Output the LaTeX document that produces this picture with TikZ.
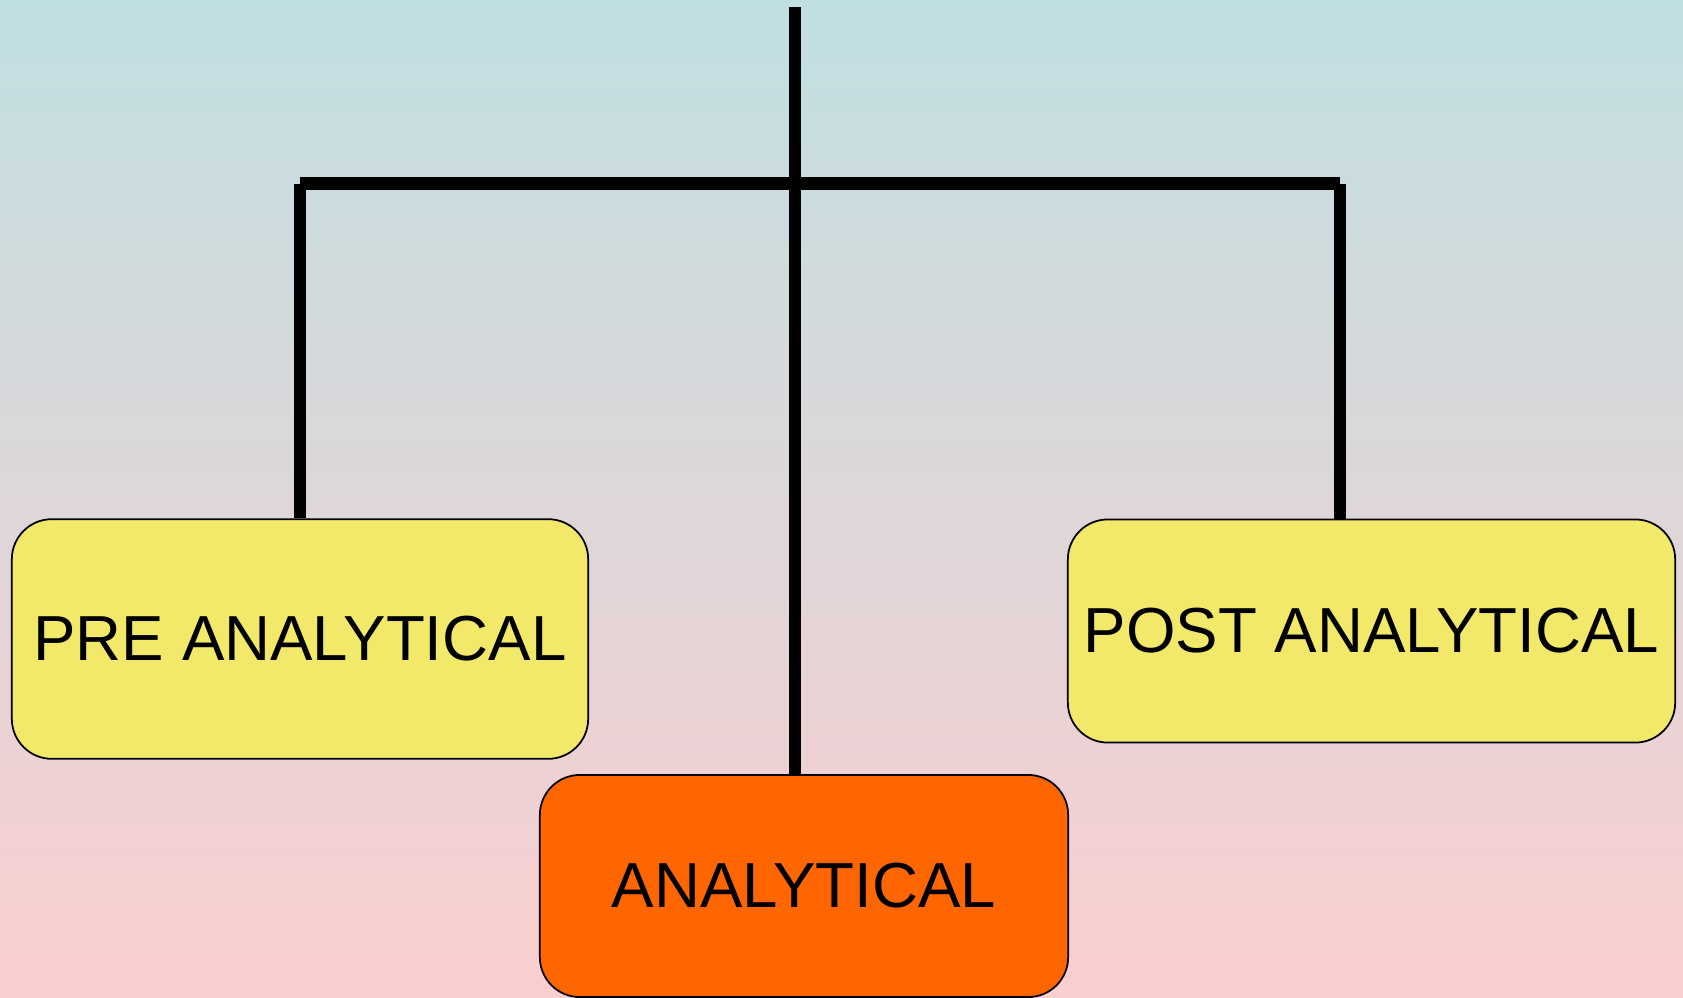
\documentclass[tikz,border=0pt]{standalone}
\usepackage{fontspec}
\setmainfont{Liberation Sans}
\definecolor{bgtop}{HTML}{C0DFE2}
\definecolor{bgbot}{HTML}{FBCECF}
\definecolor{yel}{HTML}{F2E86A}
\definecolor{org}{HTML}{FF6600}
\tikzset{
  stagebox/.style={draw=black, line width=0.5pt, rounded corners=0.4cm, inner sep=0pt, align=center,
    font=\fontsize{18.1}{20}\selectfont},
  bar/.style={line width=3.6pt, black}
}
\begin{document}
\begin{tikzpicture}[x=0.01cm, y=-0.01cm]
\shade[top color=bgtop, bottom color=bgbot] (0,0) rectangle (1683,997);
\useasboundingbox (0,0) rectangle (1683,997);
\node[stagebox, fill=yel, minimum width=5.76cm, minimum height=2.395cm] (pre) at (300,639) {PRE ANALYTICAL};
\node[stagebox, fill=yel, minimum width=6.07cm, minimum height=2.23cm] (post) at (1371.5,631) {POST ANALYTICAL};
\node[stagebox, fill=org, minimum width=5.28cm, minimum height=2.22cm] (ana) at (804,886) {ANALYTICAL};
\coordinate (top) at (795,7.5);
\coordinate (hl) at (300,183.5);
\coordinate (hr) at (1340,183.5);
\draw[bar] (top) -- (top |- ana.north);
\draw[bar] (hl) -- (hr);
\draw[bar] (hl) -- (hl |- pre.north);
\draw[bar] (hr) -- (hr |- post.north);
\end{tikzpicture}
\end{document}
